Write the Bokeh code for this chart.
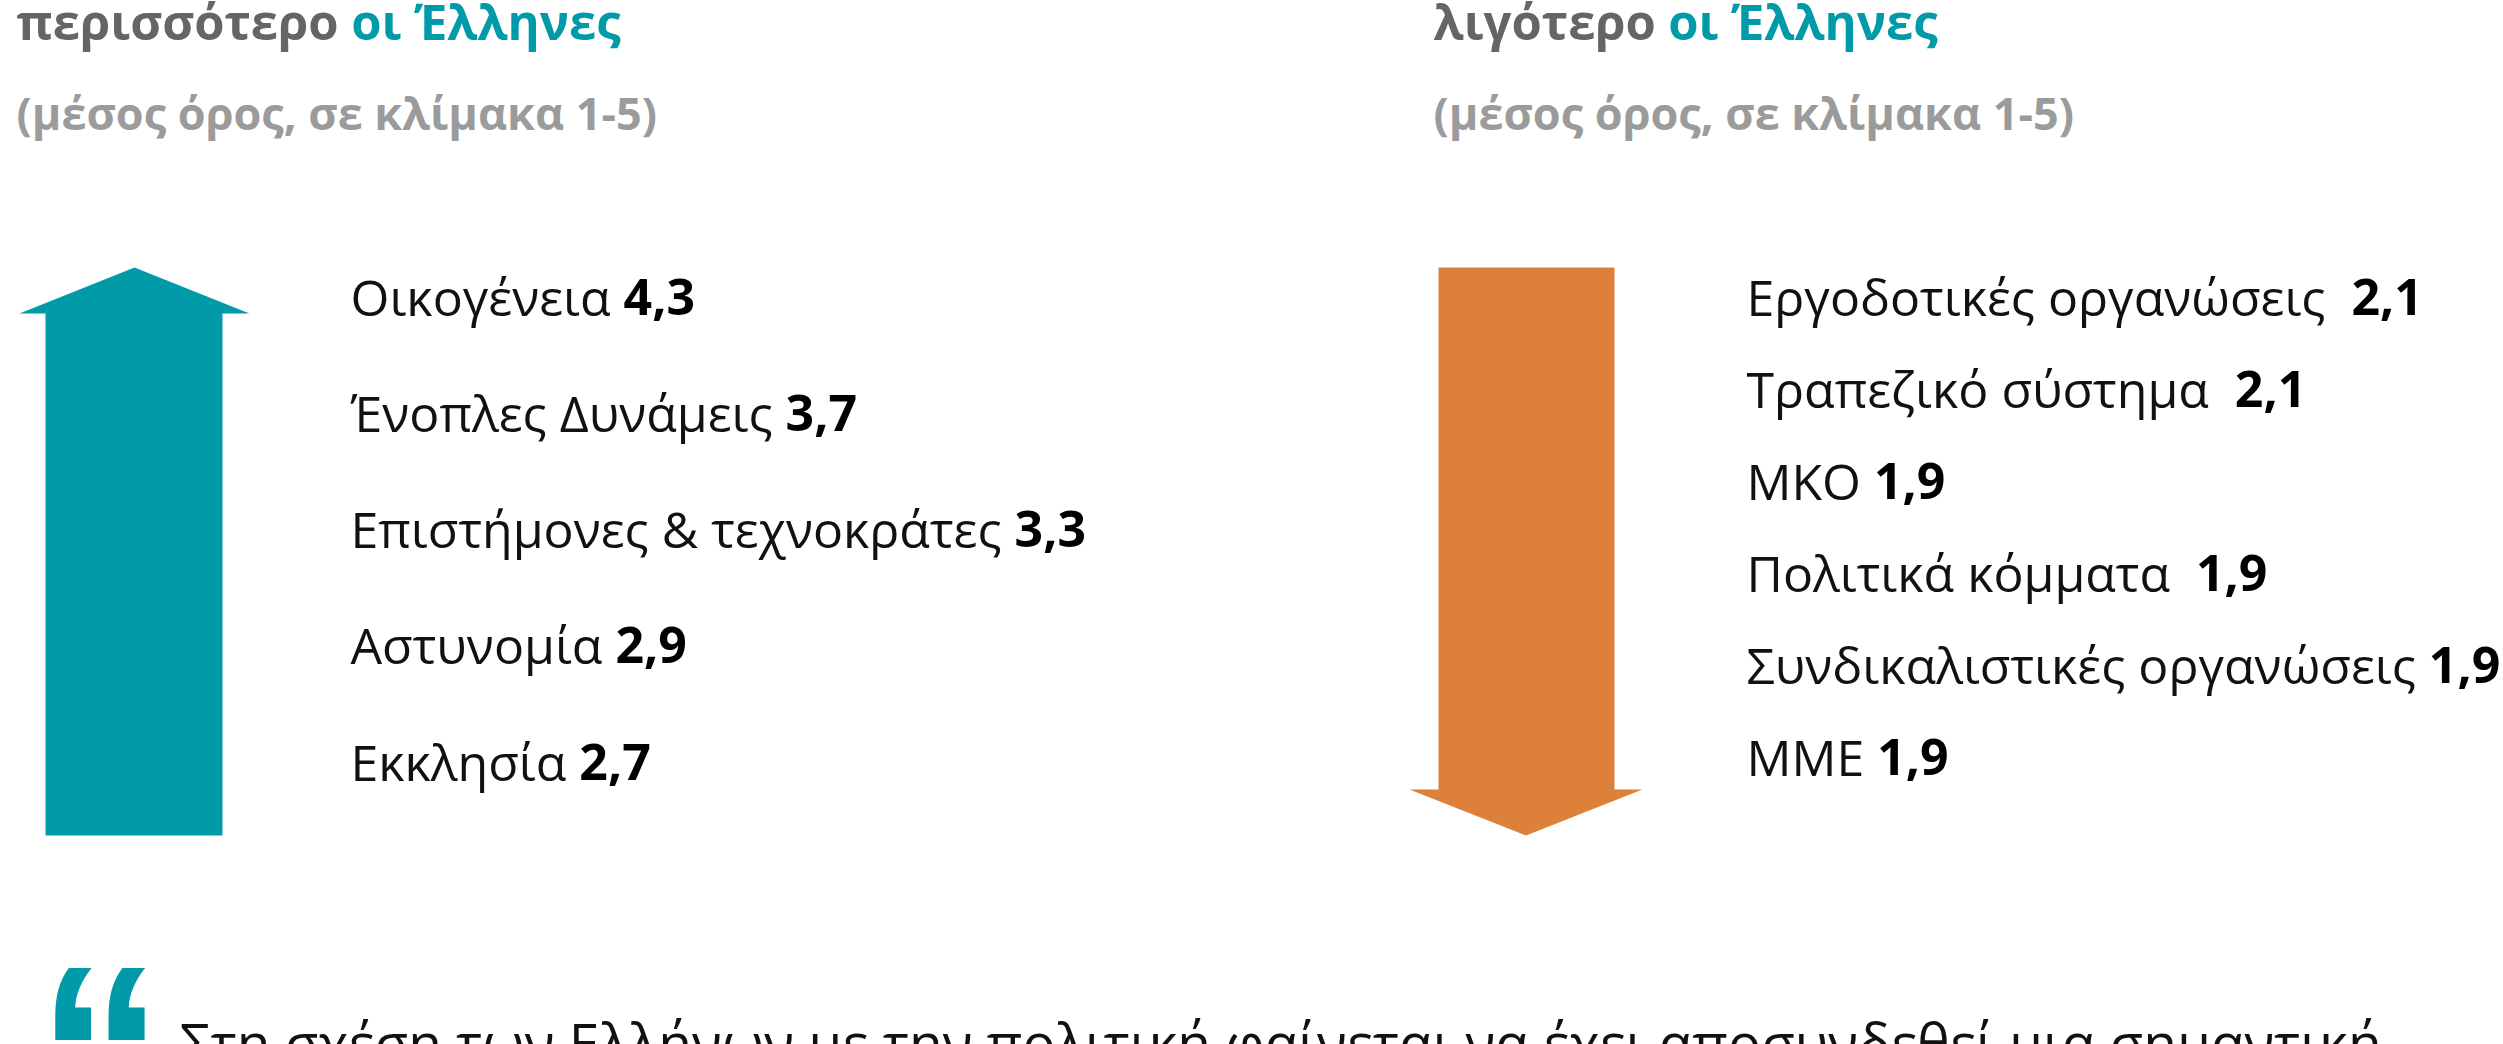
import os, glob, struct, subprocess
from bokeh.plotting import figure
from bokeh.models import Range1d
from bokeh.core.properties import value
from bokeh.embed import file_html
from bokeh.resources import INLINE

# ---------------- data ----------------
title_left_dark = "περισσότερο"
title_right_dark = "λιγότερο"
title_accent = "οι Έλληνες"
subtitle = "(μέσος όρος, σε κλίμακα 1-5)"

left_names = ["Οικογένεια", "Ένοπλες Δυνάμεις", "Επιστήμονες & τεχνοκράτες", "Αστυνομία", "Εκκλησία"]
left_values = [4.3, 3.7, 3.3, 2.9, 2.7]
left_gaps = [" ", " ", " ", " ", " "]

right_names = ["Εργοδοτικές οργανώσεις", "Τραπεζικό σύστημα", "ΜΚΟ", "Πολιτικά κόμματα",
               "Συνδικαλιστικές οργανώσεις", "ΜΜΕ"]
right_values = [2.1, 2.1, 1.9, 1.9, 1.9, 1.9]
right_gaps = ["  ", "  ", " ", "  ", " ", " "]

quote_text = "Στη σχέση των Ελλήνων με την πολιτική φαίνεται να έχει αποσυνδεθεί μια σημαντική"

# ---------------- style ----------------
FONT = "Open Sans"
QUOTE_FONT = "Liberation Sans"
TEAL = "#009AA9"
ORANGE = "#DD813A"
DARK = "#656565"
GREY = "#9B9B9B"
W, H = 2503, 1044
LABEL_SIZE = 50
HEAD_SIZE = 49
SUB_SIZE = 45
BASE_SHIFT = 0.36   # em offset of bokeh's alphabetic anchor


# ---------------- text measuring (TrueType advance widths) ----------------
def _u16(d, o): return struct.unpack_from(">H", d, o)[0]
def _u32(d, o): return struct.unpack_from(">I", d, o)[0]


class Metrics:
    def __init__(self, path):
        d = open(path, "rb").read()
        base = _u32(d, 12) if d[:4] == b"ttcf" else 0
        tabs = {}
        for i in range(_u16(d, base + 4)):
            rec = base + 12 + 16 * i
            tabs[d[rec:rec + 4].decode("latin1")] = _u32(d, rec + 8)
        self.upem = _u16(d, tabs["head"] + 18)
        nhm = _u16(d, tabs["hhea"] + 34)
        self.adv = [_u16(d, tabs["hmtx"] + 4 * i) for i in range(nhm)]
        cm = tabs["cmap"]
        self.s4 = self.s12 = None
        for i in range(_u16(d, cm + 2)):
            pid = _u16(d, cm + 4 + 8 * i); eid = _u16(d, cm + 6 + 8 * i)
            off = cm + _u32(d, cm + 8 + 8 * i)
            fmt = _u16(d, off)
            if fmt == 12 and self.s12 is None:
                self.s12 = off
            if fmt == 4 and self.s4 is None and (pid == 0 or (pid == 3 and eid in (1, 10))):
                self.s4 = off
        self.d = d

    def glyph(self, c):
        d = self.d
        if self.s12 is not None:
            o = self.s12
            for i in range(_u32(d, o + 12)):
                s, e, g = struct.unpack_from(">III", d, o + 16 + 12 * i)
                if s <= c <= e:
                    return g + c - s
            return 0
        if self.s4 is not None:
            o = self.s4
            segx2 = _u16(d, o + 6)
            ends = o + 14; starts = ends + segx2 + 2; deltas = starts + segx2; ranges = deltas + segx2
            for s in range(segx2 // 2):
                if c <= _u16(d, ends + 2 * s):
                    st = _u16(d, starts + 2 * s)
                    if c < st:
                        return 0
                    delta = _u16(d, deltas + 2 * s); ro = _u16(d, ranges + 2 * s)
                    if ro == 0:
                        return (c + delta) & 0xFFFF
                    g = _u16(d, ranges + 2 * s + ro + 2 * (c - st))
                    return (g + delta) & 0xFFFF if g else 0
            return 0
        return 0

    def width(self, text, size):
        tot = 0
        for ch in text:
            g = self.glyph(ord(ch))
            tot += self.adv[min(g, len(self.adv) - 1)]
        return tot / self.upem * size


def find_font(family, style):
    try:
        out = subprocess.run(["fc-match", "-f", "%{file}", f"{family}:style={style}"],
                             capture_output=True, text=True, timeout=5).stdout.strip()
        if out and os.path.exists(out):
            return out
    except Exception:
        pass
    key = family.replace(" ", "")
    for pat in [f"/usr/share/fonts/**/{key}*{style}*.ttf", f"/usr/share/fonts/**/{key}*.ttf",
                f"/usr/local/share/fonts/**/{key}*.ttf"]:
        hits = glob.glob(pat, recursive=True)
        if hits:
            return sorted(hits)[0]
    return None


def make_measure(family, style, fallback_factor):
    try:
        path = find_font(family, style)
        m = Metrics(path)
        reg = find_font(family, "Regular")
        factor = 1.07 if (style != "Regular" and path == reg) else 1.0
        return lambda t, s: m.width(t, s) * factor
    except Exception:
        return lambda t, s: len(t) * s * fallback_factor


w_reg = make_measure(FONT, "Regular", 0.55)
w_bold = make_measure(FONT, "Bold", 0.6)

# ---------------- layout ----------------
fmt = lambda v: f"{v:.1f}".replace(".", ",")
anchor = lambda baseline, size: baseline - BASE_SHIFT * size

col_left_x, col_right_x = 16, 1433
head_base, sub_base = 38, 128
row_top = 314
left_step, right_step = 116.25, 92.0
left_label_x, right_label_x = 350, 1746

p = figure(width=W, height=H, x_range=Range1d(0, W), y_range=Range1d(H, 0),
           output_backend="svg", toolbar_location=None, min_border=0,
           background_fill_color="white", border_fill_color="white")
p.axis.visible = False
p.grid.visible = False
p.outline_line_color = None

# headers
for x0, dark in [(col_left_x, title_left_dark), (col_right_x, title_right_dark)]:
    hy = anchor(head_base, HEAD_SIZE)
    p.text(x=[x0], y=[hy], text=[dark], text_font=value(FONT), text_font_style="bold",
           text_font_size=f"{HEAD_SIZE}px", text_color=DARK, text_baseline="alphabetic")
    p.text(x=[x0 + w_bold(dark + " ", HEAD_SIZE) + 4], y=[hy], text=[title_accent],
           text_font=value(FONT), text_font_style="bold", text_font_size=f"{HEAD_SIZE}px",
           text_color=TEAL, text_baseline="alphabetic")
    p.text(x=[x0], y=[anchor(sub_base, SUB_SIZE)], text=[subtitle], text_font=value(FONT),
           text_font_style="bold", text_font_size=f"{SUB_SIZE}px", text_color=GREY,
           text_baseline="alphabetic")

# arrows
arrow_top, arrow_bottom, head_len = 267, 835, 46
l_shaft = (45, 222); l_head = (19, 249)
lc = (l_head[0] + l_head[1]) / 2
p.patch(x=[lc, l_head[1], l_shaft[1], l_shaft[1], l_shaft[0], l_shaft[0], l_head[0]],
        y=[arrow_top, arrow_top + head_len, arrow_top + head_len, arrow_bottom, arrow_bottom,
           arrow_top + head_len, arrow_top + head_len],
        fill_color=TEAL, line_color=None)
r_shaft = (1438, 1614); r_head = (1409, 1642)
rc = (r_head[0] + r_head[1]) / 2
p.patch(x=[r_shaft[0], r_shaft[1], r_shaft[1], r_head[1], rc, r_head[0], r_shaft[0]],
        y=[arrow_top, arrow_top, arrow_bottom - head_len, arrow_bottom - head_len, arrow_bottom,
           arrow_bottom - head_len, arrow_bottom - head_len],
        fill_color=ORANGE, line_color=None)

# labels
def draw_rows(names, vals, gaps, x0, step):
    ys = [anchor(row_top + i * step, LABEL_SIZE) for i in range(len(names))]
    p.text(x=[x0] * len(names), y=ys, text=names, text_font=value(FONT),
           text_font_size=f"{LABEL_SIZE}px", text_color="#111111", text_baseline="alphabetic")
    xs = [x0 + w_reg(n + g, LABEL_SIZE) for n, g in zip(names, gaps)]
    p.text(x=xs, y=ys, text=[fmt(v) for v in vals], text_font=value(FONT), text_font_style="bold",
           text_font_size=f"{LABEL_SIZE}px", text_color="#000000", text_baseline="alphabetic")


draw_rows(left_names, left_values, left_gaps, left_label_x, left_step)
draw_rows(right_names, right_values, right_gaps, right_label_x, right_step)

# quote
p.text(x=[36], y=[911], text=["\u201c"], text_font=value(QUOTE_FONT), text_font_style="bold",
       text_font_size="255px", text_color=TEAL, text_baseline="top")
q_size = 2203 / max(w_reg(quote_text, 1.0), 1e-6)
p.text(x=[179], y=[1003], text=[quote_text], text_font=value(FONT),
       text_font_size=f"{q_size:.1f}px", text_color="#111111", text_baseline="top")

open("out.html", "w").write(file_html(p, INLINE))
